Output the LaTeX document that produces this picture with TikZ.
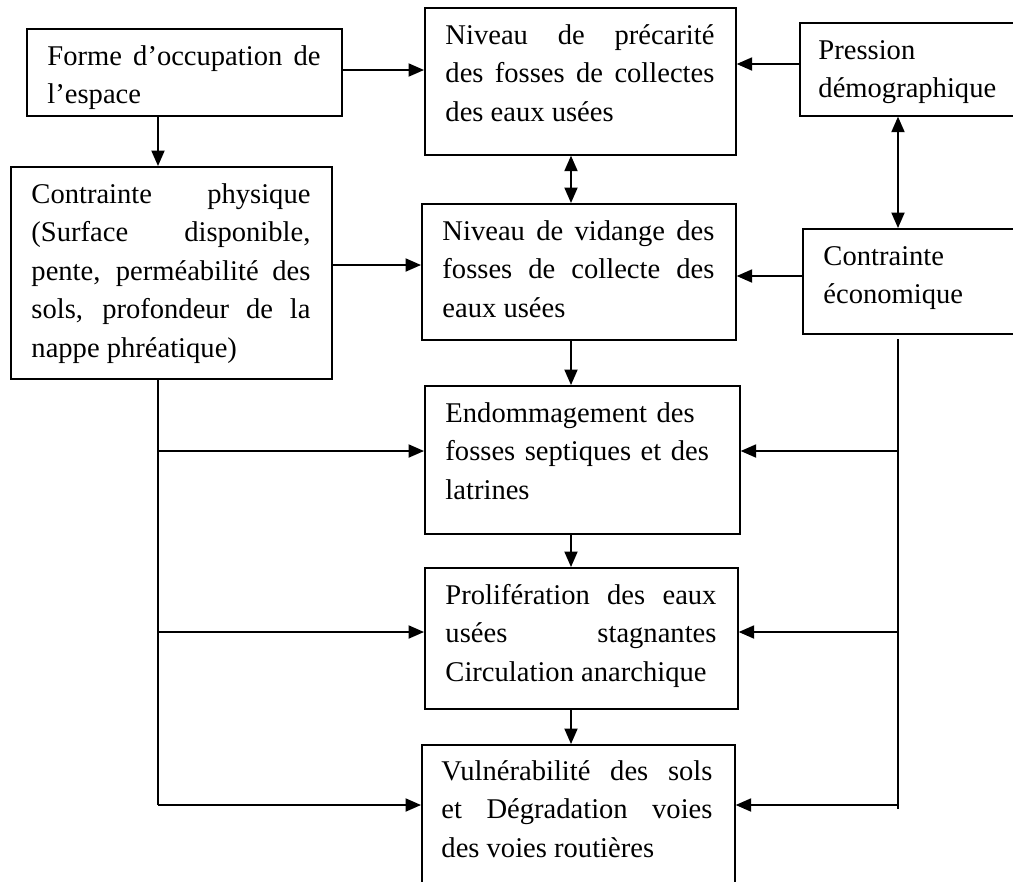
\documentclass[tikz,border=0pt]{standalone}
\usepackage{fontspec}
\setmainfont{Liberation Serif}
\usetikzlibrary{arrows.meta}
\tikzset{
  box/.style={draw,line width=0.7pt,anchor=north west,inner sep=0pt},
  txt/.style={anchor=base west,inner sep=0pt,align=justify,font=\fontsize{12}{16.2}\selectfont},
  flow/.style={line width=0.7pt},
  arr/.style={flow,-{Triangle[length=6.5pt,width=5.5pt]}},
  dbl/.style={flow,{Triangle[length=6.5pt,width=5.5pt]}-{Triangle[length=6.5pt,width=5.5pt]}},
}

\begin{document}
\begin{tikzpicture}[x=0.42pt,y=-0.42pt]
    \clip (0,0) rectangle (1013,881);
    % ------------- boxes -------------
    \node[box,minimum width=132.3pt,minimum height=36.54pt] (forme) at (26,28) {};
    \node[txt,text width=114.66pt] (forme-t) at ([shift={(21,37)}]forme.north west)
      {Forme d’occupation de\linebreak l’espace};
    \node[box,minimum width=134.82pt,minimum height=89.04pt] (phys) at (10,166) {};
    \node[txt,text width=117.18pt] (phys-t) at ([shift={(21,37)}]phys.north west)
      {Contrainte physique\linebreak (Surface disponible,\linebreak pente, perméabilité des\linebreak
       sols, profondeur de la\linebreak nappe phréatique)};
    \node[box,minimum width=130.62pt,minimum height=61.74pt] (prec) at (424,7) {};
    \node[txt,text width=112.98pt] (prec-t) at ([shift={(21,37)}]prec.north west)
      {Niveau de précarité\linebreak des fosses de collectes\linebreak des eaux usées};
    \node[box,minimum width=96.6pt,minimum height=39.06pt] (pres) at (799,22) {};
    \node[txt,text width=85pt,align=left] (pres-t) at ([shift={(19,37)}]pres.north west)
      {Pression\\démographique};
    \node[box,minimum width=131.88pt,minimum height=57.12pt] (vid) at (421,203) {};
    \node[txt,text width=114.24pt] (vid-t) at ([shift={(21,37)}]vid.north west)
      {Niveau de vidange des\linebreak fosses de collecte des\linebreak eaux usées};
    \node[box,minimum width=96.6pt,minimum height=44.1pt] (eco) at (802,228) {};
    \node[txt,text width=85pt,align=left] (eco-t) at ([shift={(21,37)}]eco.north west)
      {Contrainte\\économique};
    \node[box,minimum width=132.3pt,minimum height=62.16pt] (endo) at (424,385) {};
    \node[txt,text width=114.66pt,align=left] (endo-t) at ([shift={(21,37)}]endo.north west)
      {Endommagement des\\fosses septiques et des\\latrines};
    \node[box,minimum width=131.46pt,minimum height=59.22pt] (prol) at (424,567) {};
    \node[txt,text width=113.82pt] (prol-t) at ([shift={(21,37)}]prol.north west)
      {Prolifération des eaux\linebreak usées stagnantes\linebreak Circulation anarchique};
    \node[box,minimum width=131.46pt,minimum height=67.2pt] (vuln) at (421,744) {};
    \node[txt,text width=113.82pt] (vuln-t) at ([shift={(20,36)}]vuln.north west)
      {Vulnérabilité des sols\linebreak et Dégradation voies\linebreak des voies routières};
    % ------------- guide coordinates -------------
    \coordinate (yF) at (0,70);
    \coordinate (yP) at (0,64);
    \coordinate (yC) at (0,265);
    \coordinate (yE) at (0,276);
    \coordinate (xL) at (158,0);
    \coordinate (xM) at (571,0);
    \coordinate (xR) at (898,0);
    \coordinate (r1) at (0,451);
    \coordinate (r2) at (0,632);
    \coordinate (r3) at (0,805);
    \coordinate (lfoot) at (158,805);
    \coordinate (rtop) at (898,339);
    \coordinate (rfoot) at (898,809);
    % ------------- connectors -------------
    \draw[arr] (forme.east |- yF) -- (prec.west |- yF);
    \draw[arr] (forme.south -| xL) -- (phys.north -| xL);
    \draw[arr] (pres.west |- yP) -- (prec.east |- yP);
    \draw[dbl] (prec.south -| xM) -- (vid.north -| xM);
    \draw[dbl] (pres.south -| xR) -- (eco.north -| xR);
    \draw[arr] (phys.east |- yC) -- (vid.west |- yC);
    \draw[arr] (eco.west |- yE) -- (vid.east |- yE);
    \draw[arr] (vid.south -| xM) -- (endo.north -| xM);
    \draw[arr] (endo.south -| xM) -- (prol.north -| xM);
    \draw[arr] (prol.south -| xM) -- (vuln.north -| xM);
    % trunks and branches
    \draw[flow] (phys.south -| xL) -- (lfoot);
    \draw[flow] (rtop) -- (rfoot);
    \foreach \b/\r in {endo/r1, prol/r2, vuln/r3} {
      \draw[arr] (xL |- \r) -- (\b.west |- \r);
      \draw[arr] (xR |- \r) -- (\b.east |- \r);
    }
\end{tikzpicture}
\end{document}
